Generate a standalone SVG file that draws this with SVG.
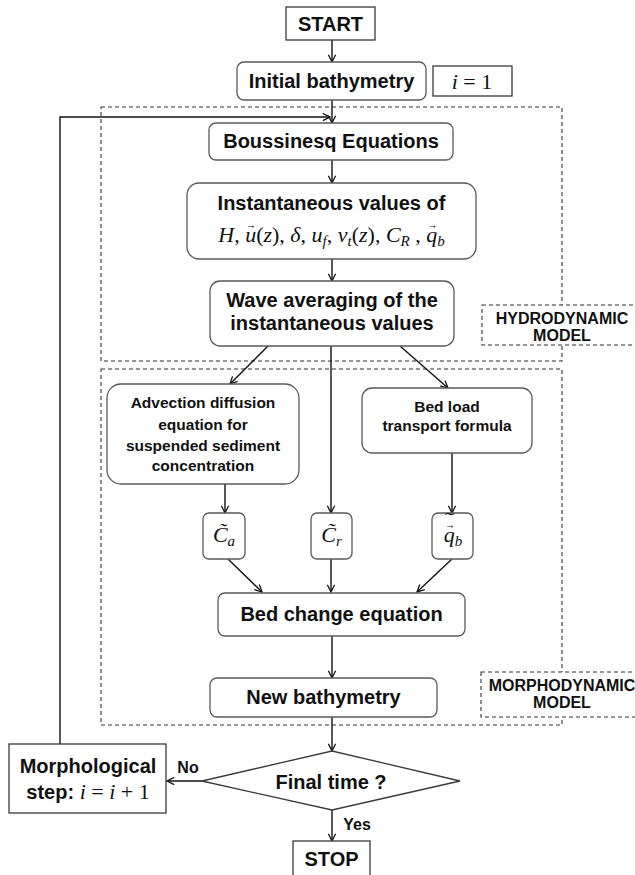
<svg xmlns="http://www.w3.org/2000/svg" width="635" height="875" viewBox="0 0 635 875">
<defs>
<style>
.bg{fill:#fff}
.rb{fill:#fff;stroke:#5a5a5a;stroke-width:1.3}
.sb{fill:#fff;stroke:#3a3a3a;stroke-width:1.3}
.dash{fill:none;stroke:#333;stroke-width:1.1;stroke-dasharray:4 3}
.dl{fill:#fff;stroke:#333;stroke-width:1.1;stroke-dasharray:4 3}
.t{font-family:"Liberation Sans",Arial,sans-serif;font-weight:bold;font-size:20px;fill:#111;text-anchor:middle}
.ts{font-family:"Liberation Sans",Arial,sans-serif;font-weight:bold;font-size:15.5px;fill:#111;text-anchor:middle}
.tl{font-family:"Liberation Sans",Arial,sans-serif;font-weight:bold;font-size:16px;fill:#111;text-anchor:middle}
.m{font-family:"Liberation Serif","DejaVu Serif",serif;font-size:22px;fill:#111;text-anchor:middle}
.c{fill:none;stroke:#111;stroke-width:1.4}
</style>
<marker id="ah" viewBox="0 0 10 10" refX="9" refY="5" markerWidth="9" markerHeight="9" markerUnits="userSpaceOnUse" orient="auto">
<path d="M1,1 L9,5 L1,9" fill="none" stroke="#111" stroke-width="1.4"/>
</marker>
</defs>
<rect class="bg" x="0" y="0" width="635" height="875"/>

<g id="hydro-region">
<rect class="dash" x="101" y="107" width="461" height="254"/>
</g>
<g id="morpho-region">
<rect class="dash" x="101" y="369" width="461" height="356"/>
</g>

<g id="connectors">
<line class="c" x1="332" y1="40" x2="332" y2="62" marker-end="url(#ah)"/>
<line class="c" x1="332" y1="100" x2="332" y2="123" marker-end="url(#ah)"/>
<polyline class="c" points="60,744 60,117 330,117" marker-end="url(#ah)"/>
<line class="c" x1="332" y1="160" x2="332" y2="183" marker-end="url(#ah)"/>
<line class="c" x1="332" y1="259" x2="332" y2="281" marker-end="url(#ah)"/>
<line class="c" x1="268" y1="346" x2="230" y2="384" marker-end="url(#ah)"/>
<line class="c" x1="331" y1="346" x2="331" y2="513" marker-end="url(#ah)"/>
<line class="c" x1="400" y1="346" x2="448" y2="388" marker-end="url(#ah)"/>
<line class="c" x1="225" y1="484" x2="225" y2="513" marker-end="url(#ah)"/>
<line class="c" x1="452" y1="453" x2="452" y2="513" marker-end="url(#ah)"/>
<line class="c" x1="228" y1="559" x2="262" y2="592" marker-end="url(#ah)"/>
<line class="c" x1="331" y1="559" x2="331" y2="592" marker-end="url(#ah)"/>
<line class="c" x1="452" y1="559" x2="417" y2="592" marker-end="url(#ah)"/>
<line class="c" x1="332" y1="636" x2="332" y2="678" marker-end="url(#ah)"/>
<line class="c" x1="332" y1="717" x2="332" y2="751" marker-end="url(#ah)"/>
<line class="c" x1="202" y1="781" x2="167" y2="781" marker-end="url(#ah)"/>
<line class="c" x1="332" y1="810" x2="332" y2="841" marker-end="url(#ah)"/>
<text class="tl" x="188" y="773">No</text>
<text class="tl" x="357" y="830">Yes</text>
</g>

<g id="start">
<rect class="sb" x="286" y="7" width="89" height="33"/>
<text class="t" x="330.5" y="31">START</text>
</g>
<g id="initial-bathymetry">
<rect class="rb" x="237" y="62" width="189" height="38" rx="7"/>
<text class="t" x="331.5" y="88">Initial bathymetry</text>
</g>
<g id="i-equals-1">
<rect class="sb" x="433" y="66" width="79" height="30"/>
<text class="m" x="472" y="89"><tspan font-style="italic">i</tspan> = 1</text>
</g>
<g id="boussinesq">
<rect class="rb" x="209" y="123" width="244" height="37" rx="7"/>
<text class="t" x="331" y="148">Boussinesq Equations</text>
</g>
<g id="instantaneous">
<rect class="rb" x="187" y="183" width="289" height="76" rx="12"/>
<text class="t" x="331.5" y="210">Instantaneous values of</text>
<text class="m" x="331.5" y="242"><tspan font-style="italic">H</tspan>, <tspan font-style="italic">u</tspan><tspan font-size="13" dx="-10.5" dy="-13" textLength="10" lengthAdjust="spacingAndGlyphs">→</tspan><tspan dy="13" dx="0.5">(</tspan><tspan font-style="italic">z</tspan>), <tspan font-style="italic">δ</tspan>, <tspan font-style="italic">u</tspan><tspan font-style="italic" font-size="15" dy="4">f</tspan><tspan dy="-4">, </tspan><tspan font-style="italic">v</tspan><tspan font-style="italic" font-size="15" dy="4">t</tspan><tspan dy="-4">(</tspan><tspan font-style="italic">z</tspan>), <tspan font-style="italic">C</tspan><tspan font-style="italic" font-size="15" dy="4">R</tspan><tspan dy="-4"> , </tspan><tspan font-style="italic">q</tspan><tspan font-size="13" dx="-10" dy="-13" textLength="10" lengthAdjust="spacingAndGlyphs">→</tspan><tspan font-style="italic" font-size="15" dy="17">b</tspan></text>
</g>
<g id="wave-averaging">
<rect class="rb" x="210" y="281" width="244" height="65" rx="10"/>
<text class="t" x="332" y="307">Wave averaging of the</text>
<text class="t" x="332" y="330">instantaneous values</text>
</g>
<g id="hydrodynamic-label">
<rect class="dl" x="482" y="305" width="160" height="40"/>
<text class="tl" x="562" y="324">HYDRODYNAMIC</text>
<text class="tl" x="562" y="341">MODEL</text>
</g>
<g id="advection">
<rect class="rb" x="107" y="384" width="192" height="100" rx="14"/>
<text class="ts" x="203" y="408">Advection diffusion</text>
<text class="ts" x="203" y="430">equation for</text>
<text class="ts" x="203" y="451">suspended sediment</text>
<text class="ts" x="203" y="471">concentration</text>
</g>
<g id="bed-load">
<rect class="rb" x="362" y="388" width="170" height="65" rx="10"/>
<text class="ts" x="447" y="412">Bed load</text>
<text class="ts" x="447" y="431">transport formula</text>
</g>
<g id="ca">
<rect class="rb" x="203" y="513" width="42" height="46" rx="6"/>
<text class="m" x="224" y="542"><tspan font-style="italic">C&#771;</tspan><tspan font-style="italic" font-size="15" dy="4">a</tspan></text>
</g>
<g id="cr">
<rect class="rb" x="311" y="513" width="41" height="46" rx="6"/>
<text class="m" x="331.5" y="542"><tspan font-style="italic">C&#771;</tspan><tspan font-style="italic" font-size="15" dy="4">r</tspan></text>
</g>
<g id="qb">
<rect class="rb" x="432" y="513" width="41" height="46" rx="6"/>
<text class="m" x="453" y="542"><tspan font-style="italic">q</tspan><tspan font-size="13" dx="-10" dy="-13" textLength="10" lengthAdjust="spacingAndGlyphs">→</tspan><tspan font-size="16" dx="-10" dy="-5" textLength="10" lengthAdjust="spacingAndGlyphs">˜</tspan><tspan font-style="italic" font-size="15" dy="22">b</tspan></text>
</g>
<g id="bed-change">
<rect class="rb" x="218" y="593" width="247" height="43" rx="7"/>
<text class="t" x="341.5" y="621">Bed change equation</text>
</g>
<g id="new-bathymetry">
<rect class="rb" x="210" y="678" width="227" height="39" rx="7"/>
<text class="t" x="323.5" y="704">New bathymetry</text>
</g>
<g id="morphodynamic-label">
<rect class="dl" x="481" y="672" width="160" height="45"/>
<text class="tl" x="562" y="691">MORPHODYNAMIC</text>
<text class="tl" x="562" y="708">MODEL</text>
</g>
<g id="final-time">
<polygon class="sb" points="202,781 332,751 460,781 332,810"/>
<text class="t" x="331" y="789">Final time ?</text>
</g>
<g id="morphological-step">
<rect class="sb" x="9" y="744" width="157" height="69"/>
<text class="t" x="88" y="773">Morphological</text>
<text class="t" x="88" y="799"><tspan>step: </tspan><tspan font-family="Liberation Serif,serif" font-weight="normal" font-size="22"><tspan font-style="italic">i</tspan> = <tspan font-style="italic">i</tspan> + 1</tspan></text>
</g>
<g id="stop">
<rect class="sb" x="293" y="841" width="77" height="36"/>
<text class="t" x="331.5" y="866">STOP</text>
</g>
</svg>
